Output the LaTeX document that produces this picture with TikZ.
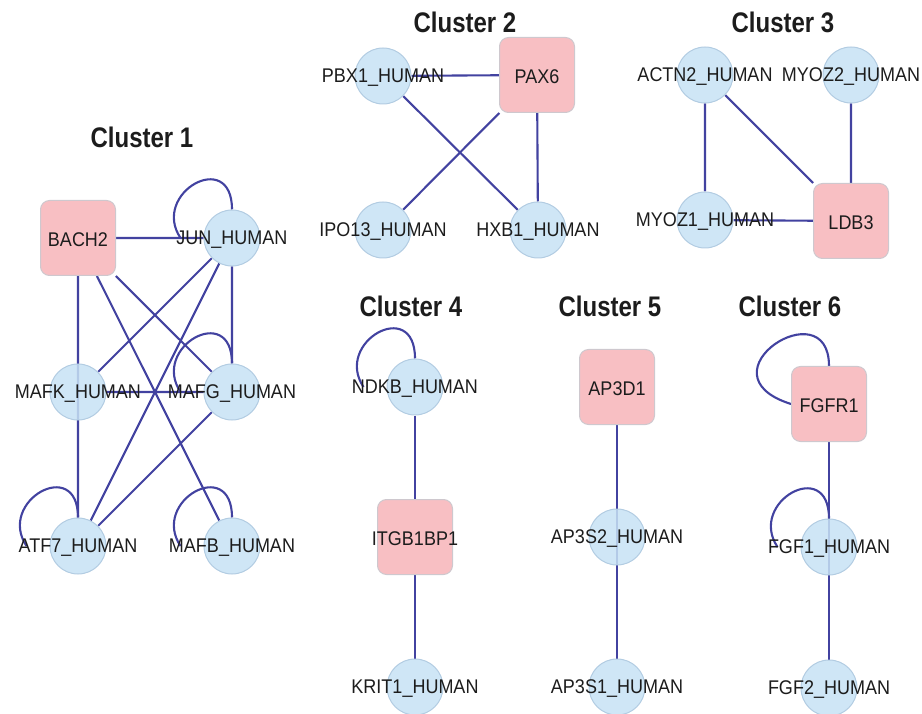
\documentclass[tikz,border=0pt]{standalone}
\usepackage{fontspec}
\setmainfont{Liberation Sans}
\usetikzlibrary{backgrounds}
\definecolor{NodeBlue}{RGB}{199,226,244}
\definecolor{RimBlue}{RGB}{178,204,226}
\definecolor{SeedPink}{RGB}{247,184,189}
\definecolor{RimGrey}{RGB}{206,200,206}
\definecolor{EdgeBlue}{RGB}{66,66,160}
\definecolor{Ink}{RGB}{28,28,28}
\begin{document}
\begin{tikzpicture}[x=1pt,y=-1pt,
  tag/.style={text=Ink,yshift=-2pt,font=\fontsize{18}{20}\selectfont},
  prot/.style={circle,draw=RimBlue,line width=1pt,fill=NodeBlue,fill opacity=0.85,minimum size=56pt,inner sep=0pt,label={[tag]center:\scalebox{1}[1.1]{#1}}},
  seed/.style={draw=RimGrey,line width=1pt,fill=SeedPink,fill opacity=0.9,rounded corners=9pt,minimum size=75pt,inner sep=0pt,label={[tag]center:\scalebox{1}[1.1]{#1}}},
  title/.style={text=Ink,font=\bfseries\fontsize{24}{28}\selectfont},
  edge/.style={EdgeBlue,line width=2.1pt}]
\useasboundingbox (0,0) rectangle (922,714);
\node[title] (t1) at (142,137) {\scalebox{1}[1.18]{Cluster 1}};
\node[title] (t2) at (465,22) {\scalebox{1}[1.18]{Cluster 2}};
\node[title] (t3) at (783,22) {\scalebox{1}[1.18]{Cluster 3}};
\node[title] (t4) at (411,306) {\scalebox{1}[1.18]{Cluster 4}};
\node[title] (t5) at (610,306) {\scalebox{1}[1.18]{Cluster 5}};
\node[title] (t6) at (790,306) {\scalebox{1}[1.18]{Cluster 6}};
\node[seed=BACH2] (bach) at (78,238) {};
\node[prot=JUN\_HUMAN] (jun) at (232,238) {};
\node[prot=MAFK\_HUMAN] (mafk) at (78,392) {};
\node[prot=MAFG\_HUMAN] (mafg) at (232,392) {};
\node[prot=ATF7\_HUMAN] (atf) at (78,546) {};
\node[prot=MAFB\_HUMAN] (mafb) at (232,546) {};
\node[prot=PBX1\_HUMAN] (pbx) at (383,76) {};
\node[seed=PAX6] (pax) at (537,75) {};
\node[prot=IPO13\_HUMAN] (ipo) at (383,230) {};
\node[prot=HXB1\_HUMAN] (hxb) at (538,230) {};
\node[prot=ACTN2\_HUMAN] (actn) at (705,75) {};
\node[prot=MYOZ2\_HUMAN] (myoz2) at (851,75) {};
\node[prot=MYOZ1\_HUMAN] (myoz1) at (705,220) {};
\node[seed=LDB3] (ldb) at (851,221) {};
\node[prot=NDKB\_HUMAN] (ndkb) at (415,387) {};
\node[seed=ITGB1BP1] (itg) at (415,537) {};
\node[prot=KRIT1\_HUMAN] (krit) at (415,687) {};
\node[seed=AP3D1] (ap3d) at (617,387) {};
\node[prot=AP3S2\_HUMAN] (ap3s2) at (617,537) {};
\node[prot=AP3S1\_HUMAN] (ap3s1) at (617,687) {};
\node[seed=FGFR1] (fgfr) at (829,404) {};
\node[prot=FGF1\_HUMAN] (fgf1) at (829,547) {};
\node[prot=FGF2\_HUMAN] (fgf2) at (829,688) {};
\begin{scope}[on background layer]
\draw[edge] (bach)--(jun) (bach)--(atf) (bach)--(mafg) (bach)--(mafb) (jun)--(mafk) (jun)--(atf) (jun)--(mafg) (mafk)--(mafg) (mafg)--(atf);
\draw[edge] (pbx)--(pax) (pbx)--(hxb) (pax)--(ipo) (pax)--(hxb);
\draw[edge] (actn)--(myoz1) (actn)--(ldb) (myoz2)--(ldb) (myoz1)--(ldb);
\draw[edge] (ndkb)--(itg) (itg)--(krit) (ap3d)--(ap3s1) (fgfr)--(fgf2);
\foreach \n in {jun,mafg,atf,mafb,ndkb,fgf1}
  \draw[edge] (\n.north) .. controls +(0,-62) and +(-30,-45) .. ([xshift=-23pt]\n.west);
\draw[edge] (fgfr.north) .. controls +(0,-78) and +(-95,-30) .. (fgfr.west);
\end{scope}
\end{tikzpicture}
\end{document}
